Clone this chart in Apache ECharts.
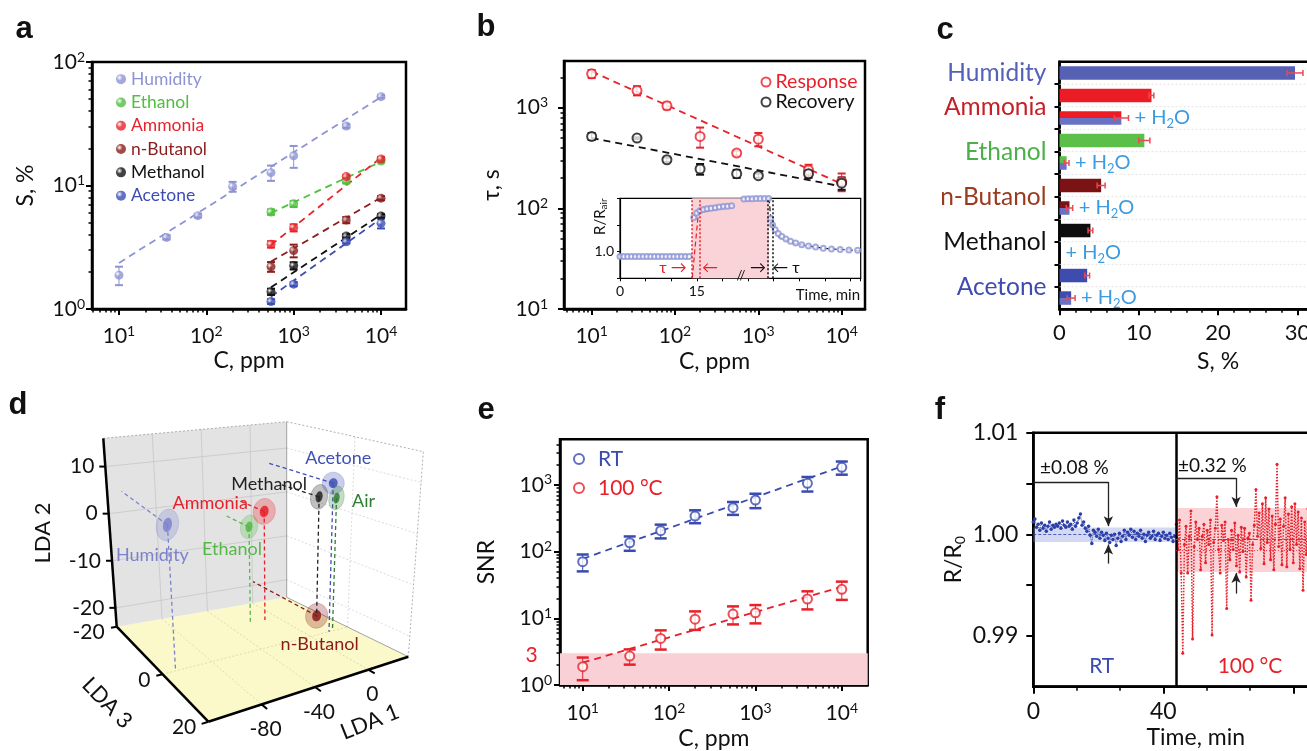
<!DOCTYPE html>
<html>
<head>
<meta charset="utf-8">
<title>Gas sensor figure</title>
<script src="https://cdn.jsdelivr.net/npm/echarts@6.0.0/dist/echarts.min.js"></script>
<style>
  html, body { margin: 0; padding: 0; background: #fff; }
  #chart { width: 1307px; height: 751px; }
</style>
</head>
<body>
<div id="chart"></div>
<script>
// ---------------- data ----------------
// concentration steps (ppm), shared by panels a, b, e
var concentrations = [10, 35, 80, 200, 550, 1000, 4000, 10000];
var gasConcentrations = [550, 1000, 4000, 10000];
var fitSpanAll = [10, 10000];
var fitSpanGas = [550, 10000];

// a: sensitivity S, %
var humidityS = [1.88, 3.8, 5.7, 9.8, 12.7, 17.4, 30.3, 52.4];
var humidityErr = [0.32, 0.15, 0.2, 0.9, 1.8, 3.5, 1.0, 1.5];
var humidityFit = [2.36, 52];
var ethanolS = [6.1, 7.1, 10.9, 15.8];
var ethanolErr = [0.3, 0.4, 0.5, 0.5];
var ethanolFit = [6.0, 15.6];
var ammoniaS = [3.34, 4.55, 11.8, 16.4];
var ammoniaErr = [0.2, 0.3, 0.4, 0.6];
var ammoniaFit = [3.3, 16.8];
var butanolS = [2.2, 2.97, 5.25, 7.9];
var butanolErr = [0.2, 0.35, 0.3, 0.3];
var butanolFit = [2.42, 8.0];
var methanolS = [1.38, 2.24, 3.9, 5.66];
var methanolErr = [0.08, 0.15, 0.15, 0.2];
var methanolFit = [1.5, 5.8];
var acetoneS = [1.15, 1.59, 3.5, 4.94];
var acetoneErr = [0.05, 0.06, 0.1, 0.45];
var acetoneFit = [1.26, 5.4];

// b: response / recovery time, s
var responseTau = [2170, 1480, 1045, 518, 354, 487, 241, 185];
var responseErr = [200, 155, 80, 117, 20, 74, 30, 37];
var responseFit = [2290, 175];
var recoveryTau = [518, 499, 304, 246, 221, 211, 221, 178];
var recoveryErr = [40, 10, 15, 30, 20, 10, 20, 25];
var recoveryFit = [500, 165];
// b inset: R/Rair vs time, min
var insetTrace = [[0,0.982],[0.75,0.982],[1.5,0.982],[2.25,0.982],[3,0.982],[3.75,0.982],[4.5,0.982],
  [5.25,0.982],[6,0.982],[6.75,0.982],[7.5,0.982],[8.25,0.982],[9,0.982],[9.75,0.982],[10.5,0.982],
  [11.25,0.982],[12,0.982],[12.75,0.982],[13.5,0.982],
  [14.4,1.128],[15,1.145],[15.6,1.153],[16.3,1.158],[17,1.161],[17.8,1.163],[18.6,1.165],[19.4,1.167],
  [20.2,1.169],[21,1.17],[21.8,1.172],
  [24.2,1.197],[25,1.198],[25.8,1.198],[26.6,1.199],[27.4,1.199],[28.2,1.199],[29,1.199],
  [29.4,1.125],[29.8,1.1],[30.3,1.082],[30.9,1.068],[31.6,1.057],[32.4,1.047],[33.3,1.039],[34.3,1.032],
  [35.5,1.026],[36.8,1.021],[38.2,1.017],[39.7,1.013],[41.3,1.01],[43,1.008],[44.7,1.006],[46.4,1.005]];
var insetRiseFit = [[14.1, 0.9], [15.3, 1.145], [22.5, 1.175]];
var insetDecayFit = [[29.1, 1.2], [29.6, 1.09], [31, 1.055], [34, 1.03], [40, 1.012], [47, 1.003]];
var insetExposure = [14.1, 29.1];
var insetResponseMarks = [14.1, 15.5];
var insetRecoveryMarks = [28.9, 29.9];

// c: sensitivity with / without water, %
var cRows = ['Humidity', 'Ammonia', 'Ammonia + H2O', 'Ethanol', 'Ethanol + H2O', 'n-Butanol',
  'n-Butanol + H2O', 'Methanol', 'Methanol + H2O', 'Acetone', 'Acetone + H2O'];
var cValues = [29.7, 11.6, 7.8, 10.7, 0.9, 5.25, 1.26, 3.9, 0, 3.49, 1.47];
var cErrors = [1.0, 0.3, 0.9, 0.7, 0.3, 0.5, 0.4, 0.3, 0, 0.3, 0.5];
var cWithWater = [0, 0, 1, 0, 1, 0, 1, 0, 1, 0, 1];
var cGas = ['humidity', 'ammonia', 'ammonia', 'ethanol', 'ethanol', 'butanol', 'butanol',
  'methanol', 'methanol', 'acetone', 'acetone'];
var cGroupNames = ['Humidity', 'Ammonia', 'Ethanol', 'n-Butanol', 'Methanol', 'Acetone'];
var cGroupRows = [0, 1.5, 3.5, 5.5, 7.5, 9.5];

// d: LDA cluster centres
var ldaNames = ['Humidity', 'Ethanol', 'Ammonia', 'n-Butanol', 'Methanol', 'Acetone', 'Air'];
var lda1 = [-108, -21.7, -10.5, 0.6, 24.5, 15, 18.8];
var lda2 = [4.4, -3.6, -0.6, -19.2, 1.9, 7.0, 3.6];
var lda3 = [-0.8, -12, -11.5, 1.7, -8, 0, -0.4];
var lda1Ticks = [-80, -40, 0];
var lda2Ticks = [-20, -10, 0, 10];
var lda3Ticks = [-20, 0, 20];

// e: signal to noise ratio
var rtSNR = [70.6, 136, 206, 342, 456, 594, 1057, 1837];
var rtSNRErr = [20, 33, 48, 75, 100, 145, 260, 410];
var rtSNRFit = [78, 1900];
var hotSNR = [1.88, 2.72, 5.0, 9.7, 11.6, 12.1, 19.5, 27.2];
var hotSNRErr = [0.7, 0.7, 1.6, 3, 3.5, 3.7, 5.9, 8.3];
var hotSNRFit = [2.16, 29.8];
var snrThreshold = 3;

// f: baseline drift R/R0 vs time, min
var rtTrace = [[0,1.0012],[0.5,1.0015],[1,1.0007],[1.5,1.0010],[2,1.0004],[2.5,1.0011],[3,1.0006],
  [3.5,1.0009],[4,1.0003],[4.5,1.0008],[5,1.0012],[5.5,1.0005],[6,1.0009],[6.5,1.0007],[7,1.0010],
  [7.5,1.0008],[8,1.0011],[8.5,1.0006],[9,1.0013],[9.5,1.0009],[10,1.0007],[10.5,1.0012],[11,1.0008],
  [11.5,1.0010],[12,1.0005],[12.5,1.0014],[13,1.0008],[13.5,1.0011],[14,1.0016],[14.5,1.0020],[15,1.0009],
  [15.5,1.0012],[16,1.0006],[16.5,1.0003],[17,1.0008],[17.5,0.9999],[18,0.9991],[18.5,1.0004],[19,1.0002],
  [19.5,0.9998],[20,1.0005],[20.5,0.9996],[21,1.0002],[21.5,0.9999],[22,0.9994],[22.5,1.0001],[23,0.9996],
  [23.5,0.9992],[24,0.9999],[24.5,0.9995],[25,1.0000],[25.5,0.9989],[26,0.9996],[26.5,1.0001],[27,0.9993],
  [27.5,0.9998],[28,1.0004],[28.5,0.9995],[29,1.0002],[29.5,0.9999],[30,1.0005],[30.5,0.9997],[31,1.0003],
  [31.5,0.9995],[32,1.0001],[32.5,0.9998],[33,1.0004],[33.5,0.9996],[34,1.0000],[34.5,0.9993],[35,0.9999],
  [35.5,1.0002],[36,0.9996],[36.5,0.9998],[37,1.0003],[37.5,0.9995],[38,0.9999],[38.5,1.0001],[39,0.9994],
  [39.5,0.9998],[40,1.0002],[40.5,0.9996],[41,0.9999],[41.5,0.9995],[42,1.0001],[42.5,0.9997],[43,0.9993],
  [43.5,0.9998]];
var hotTrace = [[44,1.0010],[44.5,0.9985],[45,1.0014],[45.5,0.9962],[46,0.9883],[46.5,0.9990],[47,1.0008],
  [47.5,0.9962],[48,0.9998],[48.5,1.0023],[49,0.9897],[49.5,0.9988],[50,1.0012],[50.5,0.9995],[51,1.0006],
  [51.5,0.9965],[52,0.9998],[52.5,1.0010],[53,0.9972],[53.5,1.0004],[54,0.9990],[54.5,1.0014],[55,0.9901],
  [55.5,0.9992],[56,1.0006],[56.5,1.0037],[57,0.9985],[57.5,0.9962],[58,1.0009],[58.5,0.9994],[59,1.0012],
  [59.5,0.9927],[60,0.9995],[60.5,0.9975],[61,1.0004],[61.5,0.9985],[62,1.0011],[62.5,0.9969],[63,0.9999],
  [63.5,0.9963],[64,1.0007],[64.5,0.9983],[65,1.0006],[65.5,0.9958],[66,0.9996],[66.5,1.0001],[67,0.9935],
  [67.5,0.9990],[68,1.0009],[68.5,1.0044],[69,0.9998],[69.5,1.0021],[70,0.9986],[70.5,1.0030],[71,0.9971],
  [71.5,1.0036],[72,0.9992],[72.5,1.0025],[73,0.9975],[73.5,1.0018],[74,0.9965],[74.5,1.0010],[75,1.0069],
  [75.5,0.9988],[76,1.0015],[76.5,0.9970],[77,1.0008],[77.5,1.0036],[78,0.9968],[78.5,1.0020],[79,0.9985],
  [79.5,1.0027],[80,0.9972],[80.5,1.0030],[81,0.9990],[81.5,1.0022],[82,0.9966],[82.5,1.0016],[83,0.9945],
  [83.5,1.0012],[84,0.9980],[84.5,1.0025],[85,0.9990]];
var rtBand = [0.99925, 1.00066];
var hotBand = [0.9963, 1.0026];
var switchTime = 43.9;

// ---------------- styles ----------------
var C = {
  humidity: '#8d93d3', ethanol: '#4fbf3f', ammonia: '#e8232b', butanol: '#8a1d1d',
  methanol: '#111111', acetone: '#3d4db5', air: '#2f7d32', red: '#e8202a', blue: '#3a4bb0', water: '#3c9be0'
};
var BAR = {
  humidity: '#5661b4', ammonia: '#ec1c24', ethanol: '#5cbf4a', butanol: '#7b1214',
  methanol: '#0d0d0d', acetone: '#3e4cb0', water: '#6a72c4'
};
var BAR_LABEL = {
  Humidity: '#5560b8', Ammonia: '#c42026', Ethanol: '#4cb04a', 'n-Butanol': '#9a3a1e',
  Methanol: '#111', Acetone: '#3e4cb0'
};
var LDA_STYLE = {
  colors: ['#7b82cc', '#55b948', '#e8202a', '#8b1a1a', '#222222', '#4050b5', '#2f7d32'],
  radii: [[11, 16], [8.5, 12], [11, 13], [11, 12.5], [8.5, 12.5], [11, 11], [7.5, 12]],
  labelOffsets: [[-15, 30], [-17, 22], [-54, -8], [3, 28], [-50, -13], [5, -25], [27, 3]],
  drop: [1, 1, 1, 0, 1, 1, 1],
  back: [1, 1, 1, 1, 1, 1, 0]
};
// fake 3D camera of panel d: screen spots (panel px) of the 8 box corners
var D_CAMERA = {
  blb: [116.7, 246.7], brb: [286.7, 217.3], flb: [208.3, 341.7], frb: [408.3, 276.7],
  blt: [103.3, 58.3], brt: [286.7, 41.7], flt: [196, 121.7], frt: [423.3, 71.7]
};
var L1_SPAN = [-120, 30], L2_SPAN = [-24, 16], L3_SPAN = [-20, 20];
var FONT = 'Lato';

// ---------------- helpers ----------------
function lg(v) { return Math.log10(v); }
function logPairs(xs, ys) { return xs.map(function (x, i) { return [lg(x), lg(ys[i])]; }); }
function logErrors(xs, ys, es) {
  return xs.map(function (x, i) { return [lg(x), lg(ys[i] - es[i]), lg(ys[i] + es[i])]; });
}
function logMinorTicks(lo, hi) {
  var out = [];
  for (var n = Math.floor(lo); n <= Math.ceil(hi); n++) {
    for (var k = 2; k <= 9; k++) {
      var v = n + Math.log10(k);
      if (v > lo && v < hi) out.push(v);
    }
  }
  return out;
}
var POW_RICH = {
  b: {fontSize: 21, lineHeight: 24, color: '#111', fontFamily: FONT},
  s: {fontSize: 14, lineHeight: 14, color: '#111', fontFamily: FONT, verticalAlign: 'top'}
};
function powLabel(v) { return '{b|10}{s|' + Math.round(v) + '}'; }

function logAxes(gridIndex, position, lo, hi, name, nameGap, margin) {
  var majors = [];
  for (var v = Math.ceil(lo); v <= hi; v++) majors.push(v);
  var major = {
    type: 'value', gridIndex: gridIndex, position: position, min: lo, max: hi,
    name: name, nameLocation: 'middle', nameGap: nameGap,
    nameTextStyle: {fontSize: 23, color: '#111', fontFamily: FONT},
    axisLine: {onZero: false, lineStyle: {color: '#000', width: 2.5}},
    axisTick: {customValues: majors, length: 6, lineStyle: {color: '#000', width: 2}},
    axisLabel: {customValues: majors, formatter: powLabel, rich: POW_RICH, margin: margin},
    splitLine: {show: false}
  };
  var minor = {
    type: 'value', gridIndex: gridIndex, position: position, min: lo, max: hi,
    axisLine: {show: false, onZero: false},
    axisTick: {customValues: logMinorTicks(lo, hi), length: 3.5, lineStyle: {color: '#000', width: 1.5}},
    axisLabel: {show: false}, splitLine: {show: false}
  };
  return [major, minor];
}

function errorBars(color, cap, width) {
  return function (params, api) {
    var lo = api.coord([api.value(0), api.value(1)]);
    var hi = api.coord([api.value(0), api.value(2)]);
    var st = {stroke: color, lineWidth: width};
    return {type: 'group', children: [
      {type: 'line', shape: {x1: lo[0], y1: lo[1], x2: hi[0], y2: hi[1]}, style: {stroke: color, lineWidth: 1}},
      {type: 'line', shape: {x1: lo[0] - cap, y1: lo[1], x2: lo[0] + cap, y2: lo[1]}, style: st},
      {type: 'line', shape: {x1: hi[0] - cap, y1: hi[1], x2: hi[0] + cap, y2: hi[1]}, style: st}
    ]};
  };
}

function ballStyle(color) {
  return {color: {type: 'radial', x: 0.35, y: 0.35, r: 0.75,
    colorStops: [{offset: 0, color: '#ffffff'}, {offset: 0.4, color: color}, {offset: 1, color: color}]}};
}
function ringStyle(color) { return {color: color, borderColor: color, borderWidth: 1.8}; }

function logSeries(name, xs, ys, errs, fitXs, fit, color, xi, yi, marker, cap, capWidth) {
  return [
    {name: name + ' fit', type: 'line', xAxisIndex: xi, yAxisIndex: yi, data: logPairs(fitXs, fit),
      symbol: 'none', silent: true, z: 2, lineStyle: {color: color, width: 1.8, type: [7, 5]}},
    {name: name + ' error', type: 'custom', xAxisIndex: xi, yAxisIndex: yi, z: 3,
      data: logErrors(xs, ys, errs), renderItem: errorBars(color, cap, capWidth)},
    {name: name, type: 'scatter', xAxisIndex: xi, yAxisIndex: yi, z: 4, data: logPairs(xs, ys),
      symbol: marker === 'ball' ? 'circle' : 'emptyCircle', symbolSize: 9,
      itemStyle: marker === 'ball' ? ballStyle(color) : ringStyle(color)}
  ];
}

function text(x, y, str, o) {
  o = o || {};
  var align = o.align || 'center', valign = o.valign || 'middle';
  return {type: 'text', x: x, y: y, rotation: o.rotation || 0, silent: true, z: 100,
    style: {text: str, fill: o.color || '#111',
      font: (o.weight || 'normal') + ' ' + (o.size || 20) + 'px ' + (o.family || FONT),
      textAlign: align, textVerticalAlign: valign, align: align, verticalAlign: valign,
      lineHeight: o.lineHeight, rich: o.rich}};
}

// ---------------- panel c renderer ----------------
var C_X_MAX = 40;
function renderSensitivityBar(params, api) {
  var i = params.dataIndex;
  var v = api.value(0), row = api.value(1), err = api.value(2);
  var band = api.size([0, 1])[1];
  var h = band * 0.6;
  var base = api.coord([0, row]);
  var end = api.coord([v, row]);
  var kids = [];
  if (i < cRows.length - 1) {
    var s0 = api.coord([0, row + 0.5]), s1 = api.coord([C_X_MAX, row + 0.5]);
    kids.push({type: 'line', shape: {x1: s0[0], y1: s0[1], x2: s1[0], y2: s1[1]},
      style: {stroke: '#dcdcdc', lineWidth: 0.8, lineDash: [2, 2]}});
  }
  var w = end[0] - base[0];
  if (w > 0) {
    if (cWithWater[i]) {
      kids.push({type: 'rect', shape: {x: base[0], y: end[1] - h / 2, width: w, height: h / 2}, style: {fill: BAR[cGas[i]]}});
      kids.push({type: 'rect', shape: {x: base[0], y: end[1], width: w, height: h / 2}, style: {fill: BAR.water}});
    } else {
      kids.push({type: 'rect', shape: {x: base[0], y: end[1] - h / 2, width: w, height: h}, style: {fill: BAR[cGas[i]]}});
    }
  }
  var tail = end[0];
  if (err > 0) {
    var e0 = api.coord([v - err, row]), e1 = api.coord([v + err, row]);
    var es = {stroke: '#e84a55', lineWidth: 1.5};
    kids.push({type: 'line', shape: {x1: e0[0], y1: e0[1], x2: e1[0], y2: e1[1]}, style: es});
    kids.push({type: 'line', shape: {x1: e0[0], y1: e0[1] - 3, x2: e0[0], y2: e0[1] + 3}, style: es});
    kids.push({type: 'line', shape: {x1: e1[0], y1: e1[1] - 3, x2: e1[0], y2: e1[1] + 3}, style: es});
    tail = e1[0];
  }
  if (cWithWater[i]) {
    kids.push({type: 'text', x: tail + 6, y: end[1], style: {
      text: '+ H{s|2}O', fill: C.water, font: '20px ' + FONT, lineHeight: 24,
      textAlign: 'left', align: 'left', textVerticalAlign: 'middle', verticalAlign: 'middle',
      rich: {s: {fontSize: 13, lineHeight: 13, fill: C.water, color: C.water, fontFamily: FONT, verticalAlign: 'bottom'}}}});
  }
  return {type: 'group', children: kids};
}

// ---------------- panel d renderers ----------------
function project(l1, l2, l3) {
  var u = (l1 - L1_SPAN[0]) / (L1_SPAN[1] - L1_SPAN[0]);
  var v = (l2 - L2_SPAN[0]) / (L2_SPAN[1] - L2_SPAN[0]);
  var w = (l3 - L3_SPAN[0]) / (L3_SPAN[1] - L3_SPAN[0]);
  function bil(a, b, c, d, k) {
    return (1 - u) * (1 - w) * a[k] + u * (1 - w) * b[k] + (1 - u) * w * c[k] + u * w * d[k];
  }
  var K = D_CAMERA;
  var bx = bil(K.blb, K.brb, K.flb, K.frb, 0), by = bil(K.blb, K.brb, K.flb, K.frb, 1);
  var tx = bil(K.blt, K.brt, K.flt, K.frt, 0), ty = bil(K.blt, K.brt, K.flt, K.frt, 1);
  return [bx + v * (tx - bx), by + v * (ty - by)];
}
function seg(p, q, stroke, width, dash) {
  return {type: 'line', shape: {x1: p[0], y1: p[1], x2: q[0], y2: q[1]},
    style: {stroke: stroke, lineWidth: width, lineDash: dash || null}};
}
function renderLdaBox(params, api) {
  var a = L1_SPAN, b = L2_SPAN, c = L3_SPAN;
  function p(x, y, z) { return api.coord(project(x, y, z)); }
  function poly(pts, fill) { return {type: 'polygon', shape: {points: pts}, style: {fill: fill}}; }
  var k = [];
  k.push(poly([p(a[0], b[0], c[0]), p(a[1], b[0], c[0]), p(a[1], b[0], c[1]), p(a[0], b[0], c[1])], '#fbf8c9'));
  k.push(poly([p(a[0], b[0], c[0]), p(a[1], b[0], c[0]), p(a[1], b[1], c[0]), p(a[0], b[1], c[0])], '#e3e3e3'));
  k.push(poly([p(a[1], b[0], c[0]), p(a[1], b[0], c[1]), p(a[1], b[1], c[1]), p(a[1], b[1], c[0])], '#ffffff'));
  lda1Ticks.forEach(function (t) {
    k.push(seg(p(t, b[0], c[0]), p(t, b[1], c[0]), '#c6c6c6', 0.8));
    k.push(seg(p(t, b[0], c[0]), p(t, b[0], c[1]), '#d8d4a4', 0.8, [2, 2]));
  });
  lda2Ticks.forEach(function (t) {
    k.push(seg(p(a[0], t, c[0]), p(a[1], t, c[0]), '#c6c6c6', 0.8));
    k.push(seg(p(a[1], t, c[0]), p(a[1], t, c[1]), '#d2d2d2', 0.8, [2, 2]));
  });
  [0].forEach(function (t) {
    k.push(seg(p(a[0], b[0], t), p(a[1], b[0], t), '#d8d4a4', 0.8, [2, 2]));
    k.push(seg(p(a[1], b[0], t), p(a[1], b[1], t), '#d2d2d2', 0.8, [2, 2]));
  });
  // thin outer edges
  k.push(seg(p(a[0], b[1], c[0]), p(a[1], b[1], c[0]), '#9a9a9a', 0.8, [2, 2]));
  k.push(seg(p(a[1], b[1], c[0]), p(a[1], b[1], c[1]), '#9a9a9a', 0.8, [2, 2]));
  k.push(seg(p(a[1], b[1], c[1]), p(a[1], b[0], c[1]), '#9a9a9a', 0.8, [2, 2]));
  k.push(seg(p(a[1], b[0], c[0]), p(a[1], b[1], c[0]), '#8a8a8a', 0.8));
  k.push(seg(p(a[1], b[0], c[0]), p(a[1], b[0], c[1]), '#8a8a8a', 0.8));
  // axes
  k.push(seg(p(a[0], b[0], c[0]), p(a[0], b[1], c[0]), '#000', 2.5));
  k.push(seg(p(a[0], b[0], c[0]), p(a[0], b[0], c[1]), '#000', 2.5));
  k.push(seg(p(a[0], b[0], c[1]), p(a[1], b[0], c[1]), '#000', 2.5));
  function lab(pt, str, align) {
    return {type: 'text', x: pt[0], y: pt[1], style: {text: str, fill: '#111', font: '21px ' + FONT,
      textAlign: align, align: align, textVerticalAlign: 'middle', verticalAlign: 'middle'}};
  }
  lda2Ticks.forEach(function (t) {
    var q = p(a[0], t, c[0]);
    k.push(seg(q, [q[0] - 6, q[1]], '#000', 2));
    k.push(lab([q[0] - 11, q[1]], String(t), 'right'));
  });
  lda3Ticks.forEach(function (t) {
    var q = p(a[0], b[0], t), r = p(a[0] - 5, b[0], t);
    k.push(seg(q, r, '#000', 2));
    k.push(lab([q[0] - 12, q[1] + 6], String(t), 'right'));
  });
  lda1Ticks.forEach(function (t) {
    var q = p(t, b[0], c[1]), r = p(t, b[0], c[1] + 2.2);
    k.push(seg(q, r, '#000', 2));
    k.push(lab([q[0] + 4, q[1] + 25], String(t), 'center'));
  });
  return {type: 'group', children: k};
}
function renderCluster(params, api) {
  var i = params.dataIndex;
  var l1 = api.value(0), l2 = api.value(1), l3 = api.value(2);
  var c = api.coord(project(l1, l2, l3));
  var col = LDA_STYLE.colors[i];
  var k = [];
  if (LDA_STYLE.drop[i]) k.push(seg(c, api.coord(project(l1, L2_SPAN[0], l3)), col, 1.3, [4, 3]));
  if (LDA_STYLE.back[i]) k.push(seg(c, api.coord(project(l1, l2, L3_SPAN[0])), col, 1.3, [4, 3]));
  var r = LDA_STYLE.radii[i];
  k.push({type: 'ellipse', x: c[0], y: c[1], rotation: -0.2, shape: {cx: 0, cy: 0, rx: r[0], ry: r[1]},
    style: {fill: col, opacity: 0.28, stroke: col, lineWidth: 0.8}});
  k.push({type: 'ellipse', x: c[0], y: c[1], rotation: -0.2, shape: {cx: 0, cy: 0, rx: r[0] * 0.4, ry: r[1] * 0.45},
    style: {fill: col, opacity: 0.85}});
  var off = LDA_STYLE.labelOffsets[i];
  k.push({type: 'text', x: c[0] + off[0], y: c[1] + off[1], style: {text: ldaNames[i], fill: col,
    font: '18px ' + FONT, textAlign: 'center', align: 'center', textVerticalAlign: 'middle', verticalAlign: 'middle'}});
  return {type: 'group', children: k};
}

// ---------------- axes ----------------
var aX = logAxes(0, 'bottom', 0.691, 4.286, 'C, ppm', 40, 15);
var aY = logAxes(0, 'left', 0, 2, 'S, %', 55, 7);
var bX = logAxes(1, 'bottom', 0.668, 4.28, 'C, ppm', 41, 15);
var bY = logAxes(1, 'left', 1, 3.464, 'τ, s', 61, 16);
var eX = logAxes(5, 'bottom', 0.737, 4.30, 'C, ppm', 42, 16);
var eY = logAxes(5, 'left', 0, 3.685, 'SNR', 62, 8);

var insetX = {type: 'value', gridIndex: 2, min: 0, max: 47, interval: 5,
  axisLine: {onZero: false, lineStyle: {color: '#000', width: 1.2}},
  axisTick: {length: 3, lineStyle: {color: '#000', width: 1}},
  axisLabel: {fontSize: 14, color: '#111', margin: 6, formatter: function (v) { return (v === 0 || v === 15) ? String(v) : ''; }},
  splitLine: {show: false}};
var insetY = {type: 'value', gridIndex: 2, min: 0.9, max: 1.2, interval: 0.1,
  axisLine: {onZero: false, lineStyle: {color: '#000', width: 1.2}},
  axisTick: {length: 3, lineStyle: {color: '#000', width: 1}},
  axisLabel: {fontSize: 14, color: '#111', margin: 6, formatter: function (v) { return Math.abs(v - 1) < 1e-6 ? '1.0' : ''; }},
  splitLine: {show: false}};

var cX = {type: 'value', gridIndex: 3, min: 0, max: C_X_MAX, interval: 10,
  name: 'S, %', nameLocation: 'middle', nameGap: 41, nameTextStyle: {fontSize: 23, color: '#111'},
  axisLine: {onZero: false, lineStyle: {color: '#000', width: 2.5}},
  axisTick: {length: 6, lineStyle: {color: '#000', width: 2}},
  minorTick: {show: true, splitNumber: 5, length: 3.5, lineStyle: {color: '#000', width: 1.5}},
  axisLabel: {fontSize: 22, color: '#111', margin: 13},
  splitLine: {show: false}};
var cRich = {};
cGroupNames.forEach(function (n, i) { cRich['g' + i] = {fontSize: 24.5, color: BAR_LABEL[n], fontFamily: FONT}; });
var cY = {type: 'value', gridIndex: 3, min: -0.5, max: 10.5, inverse: true,
  axisLine: {onZero: false, lineStyle: {color: '#000', width: 2.5}},
  axisTick: {customValues: [0.5, 1.5, 2.5, 3.5, 4.5, 5.5, 6.5, 7.5, 8.5, 9.5], length: 5, lineStyle: {color: '#000', width: 2}},
  axisLabel: {customValues: cGroupRows, margin: 13, rich: cRich, formatter: function (v) {
    var j = cGroupRows.indexOf(v);
    return j < 0 ? '' : '{g' + j + '|' + cGroupNames[j] + '}';
  }},
  splitLine: {show: false}};

var dX = {type: 'value', gridIndex: 4, min: 0, max: 440, show: false};
var dY = {type: 'value', gridIndex: 4, min: 0, max: 371, inverse: true, show: false};

var fX = {type: 'value', gridIndex: 6, min: 0, max: 100, interval: 40,
  name: 'Time, min', nameLocation: 'middle', nameGap: 39, nameTextStyle: {fontSize: 23, color: '#111'},
  axisLine: {onZero: false, lineStyle: {color: '#000', width: 2.5}},
  axisTick: {length: 7, lineStyle: {color: '#000', width: 2}},
  minorTick: {show: true, splitNumber: 3, length: 4, lineStyle: {color: '#000', width: 1.5}},
  axisLabel: {fontSize: 23, color: '#111', margin: 13, formatter: function (v) { return (v === 0 || v === 40) ? String(v) : ''; }},
  splitLine: {show: false}};
var fY = {type: 'value', gridIndex: 6, min: 0.985, max: 1.01,
  name: '{a|R/R}{s|0}', nameLocation: 'middle', nameGap: 66,
  nameTextStyle: {rich: {a: {fontSize: 23, color: '#111', fontFamily: FONT, lineHeight: 28},
    s: {fontSize: 14, color: '#111', fontFamily: FONT, lineHeight: 14, verticalAlign: 'bottom'}}},
  axisLine: {onZero: false, lineStyle: {color: '#000', width: 2.5}},
  axisTick: {customValues: [0.99, 0.995, 1.0, 1.005, 1.01], length: 7, lineStyle: {color: '#000', width: 2}},
  axisLabel: {customValues: [0.99, 1.0, 1.01], fontSize: 23, color: '#111', margin: 15,
    formatter: function (v) { return v.toFixed(2); }},
  splitLine: {show: false}};

// ---------------- series ----------------
var series = [];
series = series.concat(
  logSeries('Humidity', concentrations, humidityS, humidityErr, fitSpanAll, humidityFit, C.humidity, 0, 0, 'ball', 4, 2),
  logSeries('Ethanol', gasConcentrations, ethanolS, ethanolErr, fitSpanGas, ethanolFit, C.ethanol, 0, 0, 'ball', 4, 2),
  logSeries('Ammonia', gasConcentrations, ammoniaS, ammoniaErr, fitSpanGas, ammoniaFit, C.ammonia, 0, 0, 'ball', 4, 2),
  logSeries('n-Butanol', gasConcentrations, butanolS, butanolErr, fitSpanGas, butanolFit, C.butanol, 0, 0, 'ball', 4, 2),
  logSeries('Methanol', gasConcentrations, methanolS, methanolErr, fitSpanGas, methanolFit, C.methanol, 0, 0, 'ball', 4, 2),
  logSeries('Acetone', gasConcentrations, acetoneS, acetoneErr, fitSpanGas, acetoneFit, C.acetone, 0, 0, 'ball', 4, 2),
  logSeries('Response', concentrations, responseTau, responseErr, fitSpanAll, responseFit, C.red, 2, 2, 'ring', 4, 2),
  logSeries('Recovery', concentrations, recoveryTau, recoveryErr, fitSpanAll, recoveryFit, '#111', 2, 2, 'ring', 4, 2),
  logSeries('RT', concentrations, rtSNR, rtSNRErr, fitSpanAll, rtSNRFit, C.blue, 7, 7, 'ring', 6, 2.5),
  logSeries('100 °C', concentrations, hotSNR, hotSNRErr, fitSpanAll, hotSNRFit, C.red, 7, 7, 'ring', 6, 2.5)
);
// SNR threshold band (panel e)
series.push({name: 'SNR threshold', type: 'line', xAxisIndex: 7, yAxisIndex: 7, data: [], silent: true,
  markArea: {silent: true, itemStyle: {color: '#f8d0d5'}, data: [[{yAxis: 0}, {yAxis: lg(snrThreshold)}]]}});

// inset of panel b
series.push({name: 'inset exposure', type: 'line', xAxisIndex: 4, yAxisIndex: 4, data: [], silent: true,
  markArea: {silent: true, itemStyle: {color: '#f9d3d7'}, data: [[{xAxis: insetExposure[0]}, {xAxis: insetExposure[1]}]]},
  markLine: {silent: true, symbol: 'none', label: {show: false},
    data: insetResponseMarks.map(function (t) { return {xAxis: t, lineStyle: {color: C.red, type: [2, 2], width: 1.5}}; })
      .concat(insetRecoveryMarks.map(function (t) { return {xAxis: t, lineStyle: {color: '#111', type: [2, 2], width: 1.5}}; }))}});
series.push({name: 'inset rise fit', type: 'line', xAxisIndex: 4, yAxisIndex: 4, data: insetRiseFit, symbol: 'none',
  lineStyle: {color: C.red, width: 1.2, type: [5, 3]}, z: 3});
series.push({name: 'inset decay fit', type: 'line', xAxisIndex: 4, yAxisIndex: 4, data: insetDecayFit, symbol: 'none',
  lineStyle: {color: '#111', width: 1.2, type: [5, 3]}, z: 3});
series.push({name: 'inset trace', type: 'scatter', xAxisIndex: 4, yAxisIndex: 4, data: insetTrace,
  symbol: 'emptyCircle', symbolSize: 5, itemStyle: {color: '#8c95d6', borderColor: '#8c95d6', borderWidth: 1}, z: 4});

// panel c
series.push({name: 'sensitivity bars', type: 'custom', xAxisIndex: 5, yAxisIndex: 5,
  data: cValues.map(function (v, i) { return [v, i, cErrors[i]]; }), renderItem: renderSensitivityBar});

// panel d
series.push({name: 'lda box', type: 'custom', xAxisIndex: 6, yAxisIndex: 6, data: [[0, 0]], renderItem: renderLdaBox, z: 1});
series.push({name: 'lda clusters', type: 'custom', xAxisIndex: 6, yAxisIndex: 6, z: 2,
  dimensions: ['l1', 'l2', 'l3'], encode: {x: 0, y: 1},
  data: lda1.map(function (v, i) { return [v, lda2[i], lda3[i]]; }), renderItem: renderCluster});

// panel f
series.push({name: 'RT trace', type: 'line', xAxisIndex: 9, yAxisIndex: 9, data: rtTrace,
  symbol: 'circle', symbolSize: 3.5, itemStyle: {color: '#2c3ea8'}, lineStyle: {color: '#2c3ea8', width: 1, type: 'dotted'}, z: 4,
  markArea: {silent: true, itemStyle: {color: 'rgba(130,145,220,0.35)'},
    data: [[{xAxis: 0, yAxis: rtBand[0]}, {xAxis: switchTime, yAxis: rtBand[1]}]]},
  markLine: {silent: true, symbol: 'none', label: {show: false}, data: [
    {xAxis: switchTime, lineStyle: {color: '#000', width: 2.5, type: 'solid'}},
    [{coord: [0, 1.0], lineStyle: {color: '#2c3ea8', width: 0.8, type: [3, 2]}}, {coord: [switchTime, 1.0]}]
  ]}});
series.push({name: '100 °C trace', type: 'line', xAxisIndex: 9, yAxisIndex: 9, data: hotTrace,
  symbol: 'circle', symbolSize: 3, itemStyle: {color: C.red}, lineStyle: {color: C.red, width: 1.5, type: 'dotted'}, z: 4,
  markArea: {silent: true, itemStyle: {color: 'rgba(244,130,140,0.35)'},
    data: [[{xAxis: switchTime, yAxis: hotBand[0]}, {xAxis: 100, yAxis: hotBand[1]}]]},
  markLine: {silent: true, symbol: 'none', label: {show: false}, data: [
    [{coord: [switchTime, 0.9995], lineStyle: {color: C.red, width: 1, type: [4, 2]}}, {coord: [100, 0.9995]}],
    [{coord: [switchTime, 0.99843], lineStyle: {color: C.red, width: 0.8, type: [1, 2]}}, {coord: [100, 0.99843]}]
  ]}});
// noise brackets (panel f)
var bracketStyle = {color: '#222', width: 1.3, type: 'solid'};
function arrowLine(p, q) { return [{coord: p, symbol: 'none', lineStyle: bracketStyle}, {coord: q, symbol: 'arrow', symbolSize: [7, 10]}]; }
function plainLine(p, q) { return [{coord: p, symbol: 'none', lineStyle: bracketStyle}, {coord: q, symbol: 'none'}]; }
series.push({name: 'noise brackets', type: 'line', xAxisIndex: 9, yAxisIndex: 9, data: [], silent: true,
  markLine: {silent: true, label: {show: false}, data: [
    plainLine([0, 1.00515], [23.1, 1.00515]), arrowLine([23.1, 1.00515], [23.1, 1.0008]),
    arrowLine([23.1, 0.99712], [23.1, 0.9990]),
    plainLine([switchTime, 1.00554], [62.4, 1.00554]), arrowLine([62.4, 1.00554], [62.4, 1.0027]),
    arrowLine([62.4, 0.99417], [62.4, 0.9962])
  ]}});

// ---------------- legends ----------------
function legendItems(names, colors, icon) {
  return names.map(function (n, i) { return {name: n, icon: icon, textStyle: {color: colors[i]}}; });
}
var legends = [
  {left: 116, top: 69.5, orient: 'vertical', itemWidth: 10, itemHeight: 10, itemGap: 4, padding: 0, selectedMode: false,
    textStyle: {fontSize: 17.5, lineHeight: 19.3, fontFamily: FONT},
    data: legendItems(['Humidity', 'Ethanol', 'Ammonia', 'n-Butanol', 'Methanol', 'Acetone'],
      [C.humidity, C.ethanol, C.ammonia, C.butanol, C.methanol, C.acetone], 'circle')},
  {left: 760.5, top: 72, orient: 'vertical', itemWidth: 9, itemHeight: 9, itemGap: 0, padding: 0, selectedMode: false,
    textStyle: {fontSize: 19.5, lineHeight: 20, fontFamily: FONT},
    data: legendItems(['Response', 'Recovery'], [C.red, '#111'], 'emptyCircle')},
  {left: 573, top: 447, orient: 'vertical', itemWidth: 10, itemHeight: 10, itemGap: 5, padding: 0, selectedMode: false,
    textStyle: {fontSize: 21, lineHeight: 24, fontFamily: FONT, padding: [0, 0, 0, 9]},
    data: legendItems(['RT', '100 °C'], [C.blue, C.red], 'emptyCircle')}
];

// ---------------- graphic texts ----------------
var LETTER = {weight: 'bold', size: 31, family: '"Liberation Sans"'};
var graphics = [
  text(24, 29, 'a', LETTER), text(486, 27, 'b', LETTER), text(945, 30, 'c', LETTER),
  text(18, 405, 'd', LETTER), text(486, 410, 'e', LETTER), text(940, 410, 'f', LETTER),
  // inset of b
  text(600, 216.7, '{a|R/R}{s|air}', {rotation: Math.PI / 2, size: 15, rich: {
    a: {fontSize: 15, fontFamily: FONT, color: '#111', lineHeight: 18},
    s: {fontSize: 10, fontFamily: FONT, color: '#111', lineHeight: 10, verticalAlign: 'bottom'}}}),
  text(860, 295, 'Time, min', {align: 'right', size: 15}),
  text(673, 268, 'τ →', {color: C.red, size: 16}),
  text(710, 268, '←', {color: C.red, size: 16}),
  text(758, 268, '→', {size: 16}),
  text(786, 268, '← τ', {size: 16}),
  text(741, 276, '//', {size: 13}),
  // d axis names
  text(43, 533, 'LDA 2', {rotation: Math.PI / 2, size: 22}),
  text(107, 703, 'LDA 3', {rotation: -0.8, size: 22}),
  text(370, 722, 'LDA 1', {rotation: 0.38, size: 22}),
  // e threshold
  text(531.7, 655, String(snrThreshold), {color: C.red, size: 21}),
  // f annotations
  text(1040, 468, '±0.08 %', {align: 'left', size: 19}),
  text(1178, 466, '±0.32 %', {align: 'left', size: 19}),
  text(1101.7, 666.7, 'RT', {color: '#3a4bb0', size: 21}),
  text(1250, 666.7, '100 °C', {color: C.red, size: 21})
];

function gridBox(left, top, width, height, extra) {
  var g = {left: left, top: top, width: width, height: height, outerBoundsMode: 'none', containLabel: false};
  for (var k in extra) g[k] = extra[k];
  return g;
}
var framed = {show: true, borderColor: '#000', borderWidth: 2.5};

var option = {
  animation: false,
  backgroundColor: '#ffffff',
  textStyle: {fontFamily: FONT},
  grid: [
    gridBox(92, 62, 314, 247, framed),
    gridBox(564, 61, 301, 248, framed),
    gridBox(620, 198.3, 240.7, 80, {show: true, backgroundColor: '#fff', borderColor: '#000', borderWidth: 1.2}),
    gridBox(1059.5, 61.7, 317.2, 247.6, framed),
    gridBox(0, 380, 440, 371, {}),
    gridBox(560, 439.3, 307.7, 245.7, framed),
    gridBox(1033.3, 432.7, 325, 254, framed)
  ],
  xAxis: [aX[0], aX[1], bX[0], bX[1], insetX, cX, dX, eX[0], eX[1], fX],
  yAxis: [aY[0], aY[1], bY[0], bY[1], insetY, cY, dY, eY[0], eY[1], fY],
  legend: legends,
  graphic: {elements: graphics},
  series: series
};

var chart = echarts.init(document.getElementById('chart'), null, {renderer: 'canvas'});
chart.setOption(option);
window.addEventListener('resize', function () { chart.resize(); });
</script>
</body>
</html>
